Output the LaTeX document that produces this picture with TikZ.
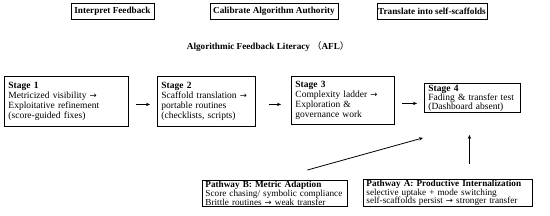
\documentclass[tikz,border=0pt]{standalone}
\usepackage{fontspec}
\setmainfont{Liberation Serif}
\newfontfamily\cjk{Noto Sans CJK SC}
\newfontfamily\arrowfont{DejaVu Sans}
\newcommand{\rarr}{{\arrowfont\fontsize{8.5}{7}\selectfont →}}
\usepackage{tikz}
\usetikzlibrary{arrows.meta,positioning,calc}

\begin{document}
\begin{tikzpicture}[
    x=1pt, y=-1pt,
    head/.style={rectangle, draw=black, line width=0.9pt, minimum height=16pt, inner sep=0pt, font=\fontsize{9.2}{10}\selectfont\bfseries},
    stagebox/.style={rectangle, draw=black, line width=0.9pt, anchor=north west, align=left, inner xsep=4pt, inner ysep=0pt, font=\fontsize{9.5}{10}\selectfont},
    pathbox/.style={rectangle, draw=black, line width=0.9pt, anchor=north west, align=left, inner xsep=3pt, inner ysep=0pt, font=\fontsize{9.2}{8.8}\selectfont},
    arr/.style={-{Stealth[length=4pt, width=3.4pt]}, line width=0.8pt, draw=black}
]
    \useasboundingbox (0,0) rectangle (550,216);

    \node [head, minimum width=83pt] (h1) at (112.5,11) {Interpret Feedback};
    \node [head, minimum width=128pt] (h2) at (274,11) {Calibrate Algorithm Authority};
    \node [head, minimum width=110pt] (h3) at (432,11) {Translate into self-scaffolds};

    \node [font=\fontsize{9.2}{10}\selectfont\bfseries] (title) at (268,47) {Algorithmic Feedback Literacy {\cjk\mdseries （}AFL{\cjk\mdseries ）}};

    \node [stagebox, text width=116pt, minimum height=50pt] (s1) at (4,76) {\textbf{Stage 1}\\Metricized visibility \rarr\\Exploitative refinement\\(score-guided fixes)};
    \node [stagebox, text width=90pt, minimum height=50pt] (s2) at (157,76) {\textbf{Stage 2}\\Scaffold translation \rarr\\portable routines\\(checklists, scripts)};
    \node [stagebox, text width=95pt, minimum height=48pt] (s3) at (291,76) {\textbf{Stage 3}\\Complexity ladder \rarr\\Exploration \&\\governance work};
    \node [stagebox, text width=88pt, minimum height=29pt, font=\fontsize{9.5}{9}\selectfont] (s4) at (424,83) {\textbf{Stage 4}\\Fading \& transfer test\\(Dashboard absent)};

    \node [pathbox, text width=139pt, minimum height=26pt] (pb) at (202,180) {\textbf{Pathway B: Metric Adaption}\\Score chasing/ symbolic compliance\\Brittle routines \rarr{} weak transfer};
    \node [pathbox, text width=163pt, minimum height=27pt] (pa) at (363,179) {\textbf{Pathway A: Productive Internalization}\\selective uptake + mode switching\\self-scaffolds persist \rarr{} stronger transfer};

    \draw [arr, shorten <=7pt, shorten >=7pt] ([yshift=-3pt]s1.east) -- ([yshift=-3pt]s1.east -| s2.west);
    \draw [arr, shorten <=13pt, shorten >=10pt] ([yshift=-3pt]s2.east) -- ([yshift=-3pt]s2.east -| s3.west);
    \draw [arr, shorten <=7pt, shorten >=7pt] ([yshift=-3pt]s3.east) -- ([yshift=-3pt]s3.east -| s4.west);
    \draw [arr] ($(pb.north)+(32.5,-10)$) -- ($(s4.south west)+(-1,25)$);
    \draw [arr] ($(pa.north)+(21.5,-15)$) -- ($(s4.south)+(-3,22)$);
\end{tikzpicture}
\end{document}
